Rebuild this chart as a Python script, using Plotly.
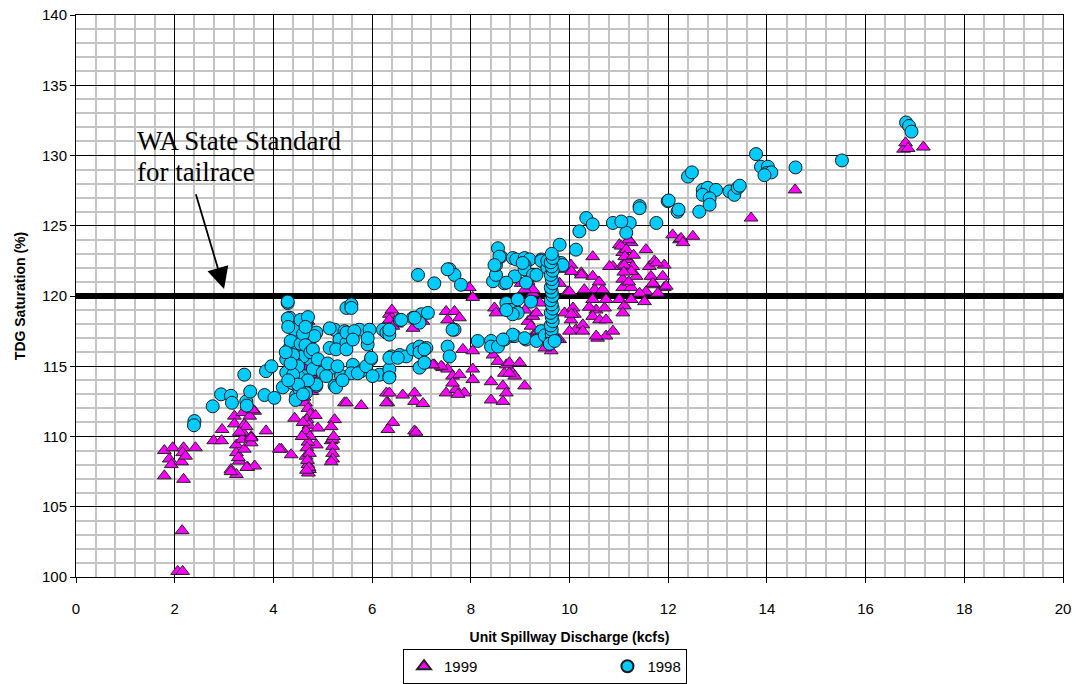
import plotly.graph_objects as go

# TDG saturation vs unit spillway discharge
discharge_1999 = [
    1.79, 1.96, 2.18, 2.16, 1.89, 1.93, 2.14, 1.79, 2.18, 2.42,
    2.15, 2.06, 2.16, 2.22, 2.79, 2.96, 2.95, 3.21, 3.21, 3.25,
    3.25, 3.31, 3.14, 3.25, 3.38, 3.38, 3.37, 3.41, 3.48, 3.55,
    3.55, 3.62, 3.62, 3.85, 3.52, 3.41, 3.58, 3.45, 3.31, 3.55,
    3.14, 3.46, 3.29, 4.16, 4.36, 4.43, 4.66, 4.70, 4.73, 4.87,
    5.44, 5.24, 5.17, 5.17, 5.20, 5.20, 5.20, 5.20, 5.17, 5.22,
    4.65, 4.70, 4.75, 4.68, 4.72, 4.66, 4.74, 4.70, 4.68, 4.73,
    4.69, 4.72, 4.62, 4.78, 4.70, 4.65, 4.75, 4.70, 4.68, 4.72,
    4.70, 4.75, 4.70, 4.85, 4.90, 4.60, 4.58, 4.12, 4.71, 4.67,
    5.48, 5.78, 6.29, 6.32, 6.42, 6.32, 6.62, 6.86, 6.86, 7.03,
    6.86, 6.89, 6.29, 6.35, 6.35, 6.35, 6.49, 6.83, 6.93, 7.10,
    6.42, 7.03, 6.40, 7.50, 7.67, 7.53, 7.77, 7.97, 8.04, 7.26,
    7.43, 7.53, 7.63, 7.50, 7.70, 7.84, 8.04, 7.77, 7.63, 7.87,
    7.40, 7.23, 8.04, 8.04, 7.74, 8.45, 8.55, 8.72, 8.85, 8.65,
    8.72, 8.41, 8.41, 8.65, 8.78, 8.68, 8.99, 8.89, 9.09, 8.78,
    8.48, 8.51, 8.95, 9.02, 9.26, 9.16, 9.26, 9.36, 9.63, 9.80,
    9.26, 9.22, 9.33, 9.26, 9.80, 9.76, 9.16, 9.09, 9.46, 9.40,
    9.10, 9.90, 9.86, 9.50, 9.93, 10.03, 10.24, 9.97, 10.07, 10.10,
    10.03, 10.13, 10.27, 10.27, 10.47, 10.47, 10.57, 10.74, 10.88, 10.88,
    10.81, 10.51, 10.67, 10.47, 10.74, 10.54, 10.71, 10.47, 10.61, 10.74,
    10.30, 10.24, 10.04, 10.00, 10.04, 10.00, 10.54, 10.60, 10.40, 11.01,
    11.08, 11.25, 11.18, 11.05, 11.28, 11.08, 11.35, 11.08, 11.25, 11.55,
    11.62, 11.72, 11.92, 11.65, 11.89, 11.72, 11.92, 11.55, 11.42, 11.52,
    11.01, 11.11, 11.08, 11.25, 11.05, 11.11, 11.25, 11.76, 11.79, 11.96,
    11.69, 11.15, 11.20, 11.12, 11.30, 11.10, 11.20, 12.09, 12.23, 12.26,
    12.30, 12.50, 13.68, 14.57, 16.77, 16.81, 16.86, 17.17,
]
tdg_1999 = [
    109.0, 109.2, 109.2, 108.85, 108.4, 108.0, 108.2, 107.2, 106.95, 109.2,
    103.3, 100.4, 100.4, 108.6, 109.7, 110.5, 109.7, 111.45, 110.9, 109.4,
    108.85, 108.25, 107.65, 107.3, 111.7, 110.3, 109.8, 109.1, 107.8, 110.0,
    109.55, 111.8, 107.9, 110.4, 111.45, 110.85, 111.9, 110.7, 110.3, 109.9,
    107.5, 107.8, 108.5, 109.1, 108.7, 111.3, 108.6, 108.0, 107.65, 109.4,
    112.4, 111.2, 110.7, 109.7, 109.8, 109.3, 108.8, 108.4, 108.2, 110.0,
    112.4, 112.0, 111.6, 111.2, 110.8, 110.4, 110.0, 109.6, 109.2, 108.8,
    108.3, 107.8, 112.8, 113.2, 113.6, 114.0, 114.4, 115.0, 115.6, 116.2,
    116.8, 117.5, 118.2, 111.5, 110.6, 111.0, 110.0, 109.1, 107.4, 107.6,
    112.4, 112.2, 113.1, 112.4, 111.0, 110.5, 112.95, 113.1, 112.5, 112.35,
    110.4, 110.3, 112.4, 113.1, 118.7, 118.3, 118.0, 117.7, 118.3, 118.7,
    117.85, 118.2, 119.0, 118.9, 118.9, 118.3, 118.45, 120.6, 119.9, 115.1,
    114.9, 114.8, 114.3, 113.1, 113.35, 116.2, 116.1, 114.4, 113.8, 113.1,
    115.0, 115.1, 114.8, 114.05, 113.0, 115.8, 115.35, 115.1, 114.5, 113.6,
    113.1, 113.9, 112.6, 112.5, 115.25, 114.5, 115.25, 114.3, 113.6, 114.5,
    119.15, 118.8, 121.15, 120.9, 120.2, 118.2, 117.15, 117.5, 116.1, 116.9,
    118.55, 117.85, 118.8, 120.45, 120.9, 116.9, 121.05, 120.45, 117.0, 119.5,
    119.0, 118.8, 121.9, 116.3, 122.1, 122.2, 121.65, 120.3, 119.15, 118.7,
    118.3, 117.6, 117.95, 117.5, 122.8, 121.4, 117.0, 117.15, 117.5, 122.1,
    122.1, 120.45, 120.45, 119.75, 119.75, 119.0, 119.15, 118.55, 118.3, 118.3,
    120.45, 121.5, 121.75, 120.3, 118.7, 117.5, 117.15, 121.0, 119.2, 123.65,
    123.1, 123.8, 122.6, 122.1, 122.1, 121.2, 121.4, 120.6, 120.6, 123.3,
    122.1, 122.5, 122.2, 121.4, 121.4, 120.8, 120.6, 120.3, 120.2, 119.6,
    119.75, 119.3, 118.8, 119.75, 123.55, 122.2, 121.75, 122.35, 120.2, 120.7,
    120.9, 123.3, 124.0, 122.8, 122.9, 121.7, 121.0, 124.35, 124.0, 124.1,
    123.8, 124.25, 125.55, 127.55, 130.45, 130.9, 130.5, 130.6,
]

discharge_1998 = [
    2.40, 2.39, 2.77, 2.94, 3.14, 3.16, 3.45, 3.46, 3.53, 3.82,
    4.02, 4.19, 3.41, 3.85, 3.96, 4.29, 4.33, 4.33, 4.26, 4.26,
    4.39, 4.46, 4.46, 4.43, 4.66, 4.80, 4.87, 4.90, 4.87, 4.66,
    4.60, 4.53, 4.73, 4.29, 4.29, 4.43, 4.83, 4.43, 4.60, 4.43,
    4.50, 4.53, 4.80, 4.87, 4.30, 4.35, 4.40, 4.50, 4.55, 4.60,
    4.65, 4.70, 4.75, 4.40, 4.50, 4.35, 4.55, 4.70, 4.80, 4.45,
    4.60, 4.25, 4.30, 4.65, 4.90, 5.14, 5.24, 5.44, 5.48, 5.24,
    5.00, 5.20, 5.37, 5.27, 5.07, 5.14, 5.34, 5.48, 5.27, 5.48,
    5.58, 5.58, 5.74, 5.95, 5.91, 5.61, 5.78, 5.58, 5.98, 5.64,
    5.91, 5.48, 5.61, 5.71, 5.88, 5.98, 5.10, 5.30, 5.40, 6.15,
    6.01, 6.35, 6.39, 6.22, 6.29, 6.56, 6.83, 7.00, 7.13, 6.96,
    6.56, 6.69, 6.83, 6.96, 7.10, 6.96, 6.35, 6.93, 6.35, 6.35,
    6.59, 6.86, 6.35, 6.52, 6.96, 7.06, 7.06, 6.35, 7.26, 7.57,
    7.67, 7.53, 7.80, 7.67, 7.53, 7.57, 7.63, 8.14, 8.41, 8.41,
    8.68, 8.85, 8.72, 8.78, 8.92, 8.68, 8.45, 8.51, 8.51, 8.61,
    8.85, 8.55, 8.89, 8.55, 8.58, 8.48, 8.89, 8.92, 8.82, 8.95,
    8.72, 9.09, 9.19, 9.09, 9.09, 9.43, 9.26, 9.12, 8.95, 9.22,
    8.85, 8.72, 9.80, 9.83, 9.43, 9.36, 9.12, 8.85, 8.65, 9.09,
    9.33, 9.05, 9.33, 9.43, 9.86, 9.50, 9.55, 9.55, 9.64, 9.64,
    9.64, 9.62, 9.66, 9.64, 9.62, 9.66, 9.64, 9.62, 9.66, 9.64,
    9.62, 9.66, 9.64, 9.62, 9.66, 9.64, 9.62, 9.66, 9.64, 9.60,
    10.13, 10.20, 10.34, 10.47, 10.88, 11.22, 11.15, 11.76, 11.42, 11.99,
    12.19, 11.42, 12.01, 12.21, 12.63, 12.40, 12.48, 12.70, 12.80, 12.97,
    12.70, 12.84, 12.84, 13.24, 13.34, 13.41, 13.45, 13.78, 13.88, 14.02,
    13.99, 14.09, 13.95, 14.58, 15.52, 16.82, 16.88, 16.93, 11.05, 9.70,
]
tdg_1998 = [
    111.1, 110.8, 112.15, 113.0, 112.9, 112.4, 112.5, 112.2, 113.2, 112.95,
    112.75, 113.5, 114.4, 114.65, 115.0, 119.5, 118.45, 116.3, 115.5, 114.55,
    113.8, 112.9, 117.4, 117.0, 118.0, 117.15, 117.4, 114.8, 113.6, 113.1,
    114.3, 116.0, 115.5, 119.6, 118.4, 117.6, 117.15, 116.4, 115.7, 115.25,
    114.3, 113.35, 114.8, 113.7, 117.8, 116.8, 115.8, 115.0, 116.6, 117.3,
    116.5, 114.0, 116.0, 114.4, 113.7, 115.2, 118.3, 118.5, 116.2, 112.6,
    113.0, 116.0, 114.0, 117.8, 115.5, 116.3, 117.6, 117.5, 119.15, 113.6,
    114.55, 114.9, 114.3, 113.5, 114.3, 117.7, 116.9, 116.65, 116.2, 117.4,
    119.4, 119.15, 117.6, 117.6, 116.55, 115.1, 114.65, 114.5, 115.5, 117.5,
    117.0, 116.2, 116.9, 114.5, 115.0, 115.6, 115.2, 115.0, 114.0, 114.4,
    114.3, 114.3, 115.7, 117.6, 117.4, 118.3, 118.45, 118.7, 118.8, 118.1,
    115.8, 115.7, 116.2, 116.4, 116.3, 114.9, 114.8, 121.5, 117.25, 117.6,
    118.3, 118.45, 115.6, 115.6, 116.0, 116.2, 115.25, 114.2, 120.9, 121.9,
    121.5, 121.9, 120.8, 117.6, 116.4, 115.7, 117.6, 116.8, 116.8, 116.4,
    116.9, 117.15, 119.5, 119.0, 118.9, 120.9, 121.05, 121.5, 122.2, 122.8,
    122.7, 116.4, 117.15, 123.4, 122.8, 122.2, 121.4, 122.6, 119.0, 118.8,
    120.95, 122.7, 122.6, 122.2, 121.9, 122.6, 121.5, 120.95, 119.75, 119.6,
    118.7, 119.0, 123.65, 122.35, 117.5, 116.9, 116.9, 117.25, 116.9, 117.0,
    116.8, 122.35, 121.5, 122.5, 122.2, 117.2, 122.0, 122.5, 117.0, 117.3,
    117.6, 117.9, 118.2, 118.5, 118.8, 119.1, 119.4, 119.7, 120.0, 120.3,
    120.6, 120.9, 121.2, 121.5, 121.8, 122.1, 122.4, 122.7, 123.0, 116.6,
    123.3, 124.6, 125.55, 125.1, 125.2, 125.2, 124.5, 125.2, 126.4, 126.75,
    126.0, 126.25, 126.8, 126.15, 126.0, 128.5, 128.8, 127.55, 127.7, 127.55,
    127.2, 126.95, 126.5, 127.45, 127.2, 127.7, 127.85, 130.1, 129.2, 129.2,
    128.75, 128.8, 128.6, 129.15, 129.65, 132.35, 132.1, 131.7, 125.3, 116.8,
]

wa_standard = 120
x_range = [0, 20]

fig = go.Figure()

# standard line sits under the markers
fig.add_trace(go.Scatter(
    x=x_range, y=[wa_standard, wa_standard], mode="lines",
    line=dict(color="black", width=6), showlegend=False, hoverinfo="skip",
))
# trailing no-break spaces push the second legend entry to the right
fig.add_trace(go.Scatter(
    x=discharge_1999, y=tdg_1999, mode="markers", name="1999" + "\u00a0" * 30,
    marker=dict(symbol="triangle-up", size=12, color="#FF00FF",
                line=dict(color="#222222", width=1)),
))
fig.add_trace(go.Scatter(
    x=discharge_1998, y=tdg_1998, mode="markers", name="1998",
    marker=dict(symbol="circle", size=13, color="#00CCFF",
                line=dict(color="#1a1a1a", width=1)),
))

serif = dict(family="Liberation Serif, Times New Roman, serif", size=27, color="black")
fig.add_annotation(
    x=1.2, y=131.0, xref="x", yref="y", xanchor="left", yanchor="middle",
    text="WA State Standard", showarrow=False, font=serif,
)
fig.add_annotation(
    x=1.2, y=128.85, xref="x", yref="y", xanchor="left", yanchor="middle",
    text="for tailrace", showarrow=False, font=serif,
)
fig.add_annotation(
    x=3.0, y=120.5, ax=2.42, ay=127.35, xref="x", yref="y", axref="x", ayref="y",
    text="", showarrow=True, arrowhead=2, arrowsize=2.4, arrowwidth=1.8,
    arrowcolor="black",
)

axis_font = dict(family="Arial, Liberation Sans, sans-serif", size=15, color="black")
title_font = dict(family="Arial, Liberation Sans, sans-serif", size=14, color="black")

# right margin is 0 (so the legend gets no extra auto-margin pad); the x domain
# stops 12px short of the right edge instead
fig.update_xaxes(
    domain=[0, 987 / 999],
    range=x_range, dtick=2, tick0=0, showline=True, linecolor="black", linewidth=1,
    mirror=True, ticks="outside", ticklen=5, tickcolor="black", tickfont=axis_font,
    ticklabelstandoff=13, ticklabeloverflow="allow",
    showgrid=True, gridcolor="black", gridwidth=1, zeroline=False, automargin=False,
    minor=dict(dtick=0.4, showgrid=True, gridcolor="#c4c4c4", gridwidth=1.5),
    title=dict(text="<b>Unit Spillway Discharge (kcfs)</b>", font=title_font, standoff=16),
)
fig.update_yaxes(
    range=[100, 140], dtick=5, tick0=100, showline=True, linecolor="black", linewidth=1,
    mirror=True, ticks="outside", ticklen=5, tickcolor="black", tickfont=axis_font,
    ticklabeloverflow="allow",
    showgrid=True, gridcolor="black", gridwidth=1, zeroline=False, automargin=False,
    minor=dict(dtick=1, showgrid=True, gridcolor="#c4c4c4", gridwidth=1.5),
    title=dict(text="<b>TDG Saturation (%)</b>", font=title_font, standoff=13),
)

fig.update_layout(
    width=1075, height=684,
    margin=dict(l=76, r=0, t=15, b=106),
    plot_bgcolor="white", paper_bgcolor="white",
    font=axis_font,
    legend=dict(
        orientation="h", x=0.4695, xanchor="center", y=-0.128, yanchor="top",
        bordercolor="black", borderwidth=1, bgcolor="white",
        font=axis_font, itemsizing="constant", itemwidth=30,
    ),
)

# drop the default 8px page margin so the figure fills the window
fig.write_html(
    "out.html",
    config={"displayModeBar": False},
    post_script="document.body.style.margin='0';",
)
